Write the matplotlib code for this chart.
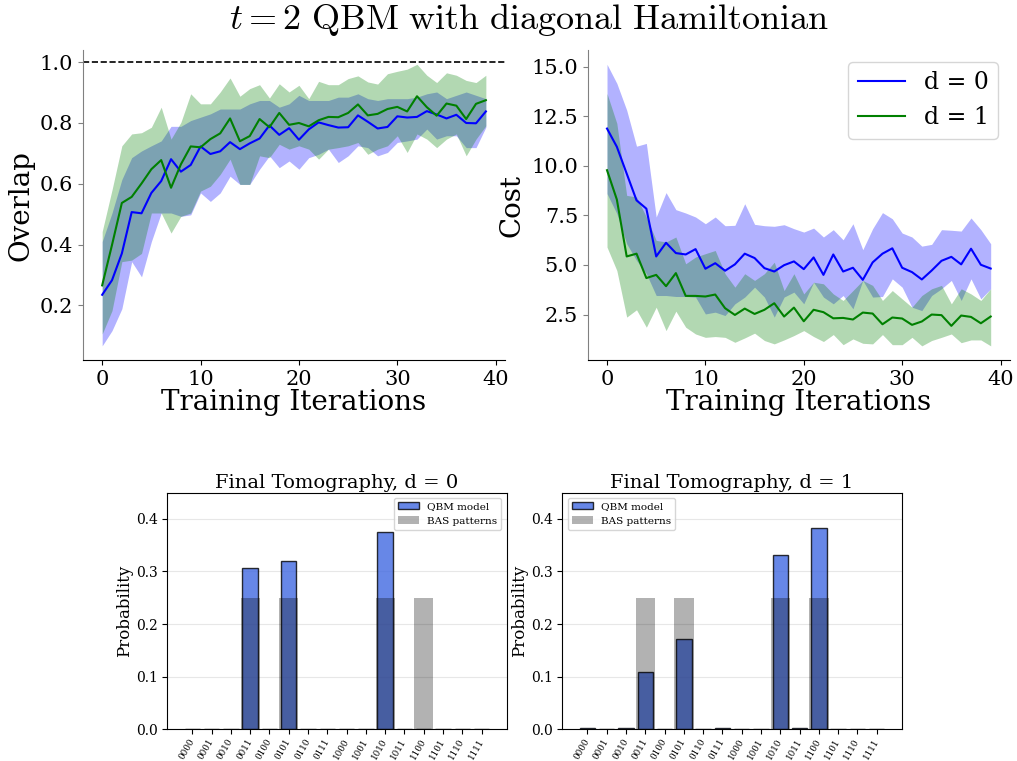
import numpy as np
import matplotlib
matplotlib.use("Agg")
import matplotlib.pyplot as plt

plt.rcParams['font.family'] = 'DejaVu Serif'
plt.rcParams['mathtext.fontset'] = 'cm'

iters = np.arange(40)

# overlap, d = 0
ov0 = [0.235, 0.283, 0.371, 0.507, 0.503, 0.570, 0.609, 0.681, 0.640, 0.662,
       0.723, 0.698, 0.707, 0.737, 0.714, 0.733, 0.749, 0.792, 0.761, 0.783,
       0.745, 0.779, 0.802, 0.793, 0.785, 0.786, 0.825, 0.804, 0.782, 0.787,
       0.822, 0.818, 0.820, 0.839, 0.828, 0.815, 0.827, 0.800, 0.799, 0.838]
ov0_lo = [0.067, 0.117, 0.189, 0.344, 0.294, 0.410, 0.504, 0.504, 0.493, 0.498,
          0.570, 0.542, 0.570, 0.625, 0.598, 0.598, 0.648, 0.692, 0.653, 0.675,
          0.648, 0.686, 0.697, 0.714, 0.670, 0.692, 0.725, 0.719, 0.692, 0.703,
          0.736, 0.741, 0.747, 0.780, 0.747, 0.758, 0.758, 0.719, 0.719, 0.786]
ov0_hi = [0.410, 0.504, 0.614, 0.686, 0.708, 0.725, 0.741, 0.789, 0.789, 0.808,
          0.819, 0.830, 0.846, 0.846, 0.846, 0.863, 0.874, 0.874, 0.852, 0.863,
          0.891, 0.874, 0.874, 0.874, 0.885, 0.885, 0.896, 0.880, 0.874, 0.880,
          0.880, 0.880, 0.885, 0.896, 0.902, 0.880, 0.891, 0.902, 0.891, 0.880]

# overlap, d = 1
ov1 = [0.266, 0.399, 0.537, 0.557, 0.601, 0.648, 0.678, 0.587, 0.664, 0.723,
       0.720, 0.747, 0.766, 0.815, 0.740, 0.757, 0.813, 0.786, 0.833, 0.794,
       0.800, 0.789, 0.809, 0.820, 0.819, 0.833, 0.861, 0.825, 0.830, 0.846,
       0.853, 0.838, 0.888, 0.852, 0.824, 0.864, 0.857, 0.813, 0.863, 0.875]
ov1_lo = [0.106, 0.183, 0.344, 0.349, 0.371, 0.504, 0.504, 0.438, 0.493, 0.504,
          0.576, 0.592, 0.631, 0.681, 0.598, 0.598, 0.692, 0.686, 0.730, 0.714,
          0.725, 0.714, 0.681, 0.714, 0.719, 0.725, 0.736, 0.697, 0.714, 0.725,
          0.758, 0.703, 0.764, 0.747, 0.719, 0.747, 0.764, 0.692, 0.747, 0.791]
ov1_hi = [0.443, 0.580, 0.725, 0.764, 0.768, 0.786, 0.852, 0.747, 0.802, 0.896,
          0.863, 0.863, 0.902, 0.948, 0.888, 0.913, 0.926, 0.882, 0.929, 0.902,
          0.924, 0.880, 0.937, 0.926, 0.926, 0.946, 0.955, 0.935, 0.928, 0.962,
          0.970, 0.977, 0.993, 0.957, 0.933, 0.965, 0.957, 0.940, 0.933, 0.957]

# cost, d = 0
cost0 = [11.88, 10.96, 9.61, 8.26, 7.84, 5.43, 6.12, 5.60, 5.53, 5.80,
         4.81, 5.09, 4.71, 5.03, 5.57, 5.35, 4.84, 4.67, 4.99, 5.18,
         4.79, 5.38, 4.50, 5.53, 4.67, 4.86, 4.25, 5.13, 5.57, 5.84,
         4.86, 4.64, 4.27, 4.72, 5.21, 5.41, 5.03, 5.82, 5.01, 4.82]
cost0_lo = [8.60, 7.59, 6.07, 5.23, 4.56, 3.46, 3.46, 3.41, 3.41, 3.38,
            2.53, 2.62, 2.45, 3.04, 3.38, 3.88, 3.38, 2.37, 3.38, 3.63,
            3.04, 4.13, 3.38, 3.04, 3.46, 2.79, 4.22, 3.38, 3.41, 4.30,
            3.88, 2.87, 2.70, 3.46, 3.80, 4.22, 3.21, 4.30, 3.29, 3.80]
cost0_hi = [15.12, 14.16, 12.81, 10.99, 11.13, 7.42, 8.65, 7.79, 7.62, 7.42,
            7.08, 7.42, 6.98, 7.00, 8.09, 7.05, 6.98, 6.95, 7.03, 6.83,
            6.66, 6.86, 6.41, 6.78, 6.27, 7.08, 5.77, 6.83, 7.64, 7.33,
            6.61, 6.41, 5.95, 6.04, 6.78, 6.75, 6.71, 7.37, 6.78, 6.07]

# cost, d = 1
cost1 = [9.78, 8.30, 5.43, 5.57, 4.34, 4.50, 3.93, 4.59, 3.44, 3.44,
         3.41, 3.51, 2.82, 2.48, 2.80, 2.53, 2.74, 3.07, 2.40, 2.85,
         2.16, 2.74, 2.62, 2.31, 2.33, 2.25, 2.60, 2.55, 2.01, 2.35,
         2.30, 1.98, 2.15, 2.50, 2.47, 1.93, 2.45, 2.38, 2.06, 2.40]
cost1_lo = [5.90, 4.72, 2.37, 2.74, 1.86, 2.87, 1.69, 2.67, 1.86, 1.52,
            1.35, 1.39, 1.35, 1.10, 1.32, 1.56, 1.19, 1.02, 1.22, 1.44,
            1.69, 1.39, 1.14, 1.49, 0.98, 1.27, 1.05, 1.02, 1.49, 0.98,
            0.98, 1.35, 0.92, 1.19, 1.35, 1.52, 1.08, 1.22, 1.22, 0.92]
cost1_hi = [13.65, 12.14, 8.51, 8.43, 7.42, 6.24, 6.16, 6.41, 5.06, 5.40,
            5.57, 5.73, 4.56, 3.88, 4.56, 4.22, 4.56, 5.14, 3.71, 4.56,
            3.54, 4.13, 4.05, 3.54, 3.21, 3.71, 4.22, 3.97, 3.21, 3.71,
            3.29, 2.87, 3.46, 3.80, 3.97, 3.04, 3.80, 3.54, 3.21, 3.80]

# final tomography
states = ['0000', '0001', '0010', '0011', '0100', '0101', '0110', '0111',
          '1000', '1001', '1010', '1011', '1100', '1101', '1110', '1111']
probs_d0 = [0.0, 0.0, 0.0, 0.306, 0.0, 0.320, 0.0, 0.0,
            0.0, 0.0, 0.375, 0.0, 0.0, 0.0, 0.0, 0.0]
probs_d1 = [0.002, 0.0, 0.002, 0.108, 0.0, 0.171, 0.0, 0.002,
            0.0, 0.0, 0.332, 0.002, 0.383, 0.0, 0.0, 0.0]
bas = [0, 0, 0, 0.25, 0, 0.25, 0, 0, 0, 0, 0.25, 0, 0.25, 0, 0, 0]

fig = plt.figure(figsize=(10.17, 7.61), dpi=100)
fig.text(0.52, 0.975, r'$t=2\ \mathrm{QBM\ with\ diagonal\ Hamiltonian}$',
         ha='center', va='center', fontsize=26)

ax1 = fig.add_axes([0.0816, 0.527, 0.415, 0.407])
ax2 = fig.add_axes([0.578, 0.527, 0.415, 0.407])

ax1.fill_between(iters, ov0_lo, ov0_hi, color='blue', alpha=0.3, lw=0)
ax1.fill_between(iters, ov1_lo, ov1_hi, color='green', alpha=0.3, lw=0)
ax1.plot(iters, ov0, color='b', lw=1.5, label='d = 0')
ax1.plot(iters, ov1, color='g', lw=1.5, label='d = 1')
ax1.axhline(1.0, color='k', ls='--', lw=1.2)
ax1.set_ylabel('Overlap', fontsize=20)

ax2.fill_between(iters, cost0_lo, cost0_hi, color='blue', alpha=0.3, lw=0)
ax2.fill_between(iters, cost1_lo, cost1_hi, color='green', alpha=0.3, lw=0)
ax2.plot(iters, cost0, color='b', lw=1.5, label='d = 0')
ax2.plot(iters, cost1, color='g', lw=1.5, label='d = 1')
ax2.set_ylabel('Cost', fontsize=20)
ax2.legend(fontsize=17, loc='upper right')

for ax in (ax1, ax2):
    ax.set_xlabel('Training Iterations', fontsize=20, labelpad=0)
    ax.tick_params(labelsize=15)
    ax.spines['top'].set_visible(False)
    ax.spines['right'].set_visible(False)
    ax.spines['left'].set_color('gray')
    ax.tick_params(axis='y', color='gray')
ax2.set_yticks([2.5, 5.0, 7.5, 10.0, 12.5, 15.0])
ax1.set_yticks([0.2, 0.4, 0.6, 0.8, 1.0])

ax3 = fig.add_axes([0.1645, 0.0417, 0.3337, 0.311])
ax4 = fig.add_axes([0.553, 0.0417, 0.3337, 0.311])
x = np.arange(len(states))
for ax, probs, d, loc in ((ax3, probs_d0, 0, 'upper right'), (ax4, probs_d1, 1, 'upper left')):
    ax.bar(x, probs, width=0.8, color='royalblue', alpha=0.8,
           edgecolor='black', linewidth=1, label='QBM model')
    ax.bar(x, bas, width=1.0, color='black', alpha=0.3, label='BAS patterns')
    ax.set_ylim(0, 0.45)
    ax.set_xticks(x)
    ax.set_xticklabels(states, rotation=60, fontsize=6.3, ha='right',
                       va='center', rotation_mode='anchor')
    ax.tick_params(axis='y', labelsize=10)
    ax.set_ylabel('Probability', fontsize=12, labelpad=2)
    ax.set_title(f'Final Tomography, d = {d}', fontsize=14, pad=3)
    ax.grid(axis='y', alpha=0.3)
    ax.set_axisbelow(True)
    ax.legend(fontsize=7.5, loc=loc)

fig.savefig('out.png', dpi=100)
